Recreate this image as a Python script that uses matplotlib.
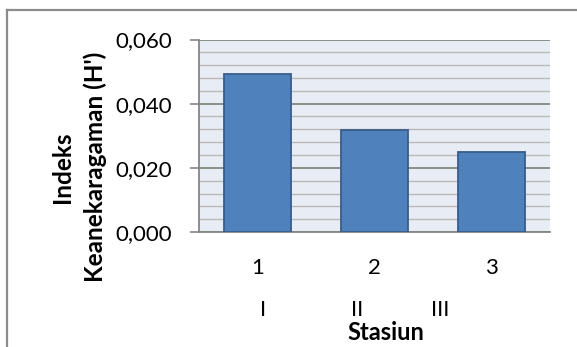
import numpy as np
import matplotlib
matplotlib.use('Agg')
import matplotlib.pyplot as plt
from matplotlib.ticker import MultipleLocator

# Data
stations = ['1', '2', '3']
roman = ['I', 'II', 'III']
values = [0.0494, 0.0317, 0.0250]
yticks = [0, 0.02, 0.04, 0.06]
ytick_labels = ['0,000', '0,020', '0,040', '0,060']

plt.rcParams['font.family'] = ['Lato', 'DejaVu Sans']

W, H = 577, 347
fig = plt.figure(figsize=(W / 100, H / 100), dpi=100)

# outer chart border (only left and top edges visible)
fig.add_artist(plt.Line2D([7 / W, 7 / W], [0, 1 - 10 / H], transform=fig.transFigure,
                          color='#8c8c8c', lw=1.6))
fig.add_artist(plt.Line2D([7 / W, 1], [1 - 10 / H, 1 - 10 / H], transform=fig.transFigure,
                          color='#8c8c8c', lw=1.6))

ax = fig.add_axes([199 / W, 1 - 232 / H, (550 - 199) / W, (232 - 39.5) / H])
ax.set_facecolor('#e8ecf4')

x = np.arange(len(values))
ax.bar(x, values, width=0.573, color='#4f81bd', edgecolor='#385d8a', linewidth=1.3, zorder=3)

ax.set_xlim(-0.5, 2.5)
ax.set_ylim(0, 0.06)
ax.yaxis.set_minor_locator(MultipleLocator(0.004))
ax.set_yticks(yticks)
ax.set_yticklabels(ytick_labels)
ax.grid(which='minor', axis='y', color='#b9b9b9', lw=1.0, zorder=1)
ax.grid(which='major', axis='y', color='#868686', lw=1.3, zorder=2)
ax.tick_params(axis='y', which='major', length=6.5, width=1.2, color='#868686',
               labelsize=16, pad=13)
ax.tick_params(axis='y', which='minor', length=0)

ax.set_xticks(x)
ax.set_xticklabels(stations)
ax.tick_params(axis='x', length=0, labelsize=16, pad=19)

for s in ['top', 'right']:
    ax.spines[s].set_visible(False)
for s in ['left', 'bottom']:
    ax.spines[s].set_color('#868686')
    ax.spines[s].set_linewidth(1.3)

# roman numerals under the station numbers
for lab, px in zip(roman, [263, 357, 440]):
    fig.text(px / W, 1 - 310 / H, lab, ha='center', va='center', fontsize=16)

fig.text(386 / W, 1 - 332 / H, 'Stasiun', ha='center', va='center',
         fontsize=17, fontweight='bold')
fig.text(63 / W, 1 - 167 / H, 'Indeks', ha='center', va='center',
         rotation=90, fontsize=17.5, fontweight='bold')
fig.text(95 / W, 1 - 167 / H, "Keanekaragaman (H')", ha='center', va='center',
         rotation=90, fontsize=17.5, fontweight='bold')

fig.savefig('out.png', dpi=100)
